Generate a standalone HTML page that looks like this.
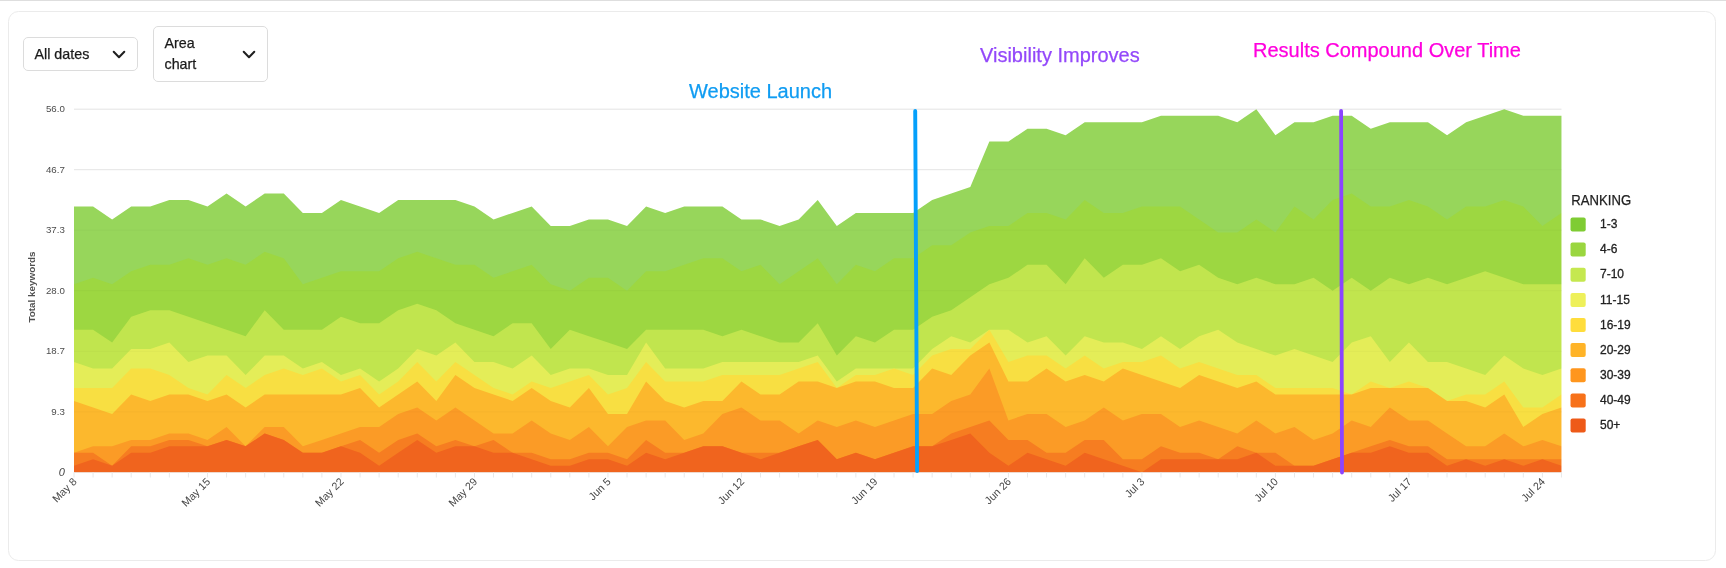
<!DOCTYPE html>
<html><head><meta charset="utf-8"><title>Ranking chart</title>
<style>
html,body{margin:0;padding:0;background:#fff}
body{width:1726px;height:568px;position:relative;overflow:hidden;font-family:"Liberation Sans",sans-serif}
.topline{position:absolute;left:0;top:0;width:1726px;height:1px;background:#dedede}
.card{position:absolute;left:7.75px;top:10.75px;width:1708.5px;height:550.5px;border:1.5px solid #ebebeb;border-radius:10.5px;box-sizing:border-box}
.dd{position:absolute;will-change:transform;border:1px solid #dcdcdc;border-radius:5px;box-sizing:border-box;color:#1a1a1a;font-size:14.3px;line-height:21px;-webkit-text-stroke:0.25px #1a1a1a}
.dd span{position:absolute;left:10.5px}
.dd svg{position:absolute}
</style></head><body>
<div class="topline"></div>
<div class="card"></div>
<div class="dd" style="left:23px;top:37px;width:115px;height:34px"><span style="top:5.5px">All dates</span>
<svg style="left:88.3px;top:12.3px" width="14" height="10" viewBox="0 0 14 10"><path d="M1.7 1.8 L7 7.3 L12.3 1.8" fill="none" stroke="#1f1f1f" stroke-width="2" stroke-linecap="round" stroke-linejoin="round"/></svg></div>
<div class="dd" style="left:153px;top:26px;width:115px;height:56px"><span style="top:6px">Area<br>chart</span>
<svg style="left:87.8px;top:23.3px" width="14" height="10" viewBox="0 0 14 10"><path d="M1.7 1.8 L7 7.3 L12.3 1.8" fill="none" stroke="#1f1f1f" stroke-width="2" stroke-linecap="round" stroke-linejoin="round"/></svg></div>
<svg width="1726" height="568" viewBox="0 0 1726 568" style="position:absolute;left:0;top:0;will-change:transform">
<style>
.yl{font:9.7px "Liberation Sans",sans-serif;fill:#4c4c4c}
.xl{font:10.7px "Liberation Sans",sans-serif;fill:#484848}
.lg{font:12px "Liberation Sans",sans-serif;fill:#222;stroke:#222;stroke-width:0.3px}
.lt{font:14px "Liberation Sans",sans-serif;fill:#222;stroke:#222;stroke-width:0.25px}
.an{font:20px "Liberation Sans",sans-serif;stroke-width:0.25px}
</style>
<line x1="74.0" x2="1561.5" y1="109.2" y2="109.2" stroke="#e9e9e9" stroke-width="1"/>
<text x="64.8" y="112.1" text-anchor="end" class="yl">56.0</text>
<line x1="74.0" x2="1561.5" y1="169.7" y2="169.7" stroke="#e9e9e9" stroke-width="1"/>
<text x="64.8" y="172.6" text-anchor="end" class="yl">46.7</text>
<line x1="74.0" x2="1561.5" y1="230.2" y2="230.2" stroke="#e9e9e9" stroke-width="1"/>
<text x="64.8" y="233.1" text-anchor="end" class="yl">37.3</text>
<line x1="74.0" x2="1561.5" y1="290.7" y2="290.7" stroke="#e9e9e9" stroke-width="1"/>
<text x="64.8" y="293.6" text-anchor="end" class="yl">28.0</text>
<line x1="74.0" x2="1561.5" y1="351.3" y2="351.3" stroke="#e9e9e9" stroke-width="1"/>
<text x="64.8" y="354.2" text-anchor="end" class="yl">18.7</text>
<line x1="74.0" x2="1561.5" y1="411.8" y2="411.8" stroke="#e9e9e9" stroke-width="1"/>
<text x="64.8" y="414.7" text-anchor="end" class="yl">9.3</text>
<line x1="74.0" x2="1561.5" y1="472.3" y2="472.3" stroke="#e9e9e9" stroke-width="1"/>
<text x="64.8" y="476.4" text-anchor="end" class="yl" style="font-style:italic;font-size:11px;fill:#444">0</text>
<mask id="cp" maskUnits="userSpaceOnUse" x="0" y="0" width="1726" height="568"><rect x="74.0" y="100" width="1487.46" height="372.15" fill="#fff"/></mask>
<g mask="url(#cp)">
<path d="M71.00,206.46 L74.00,206.46 L93.07,206.46 L112.14,219.42 L131.21,206.46 L150.28,206.46 L169.35,199.97 L188.42,199.97 L207.49,206.46 L226.56,193.49 L245.63,206.46 L264.70,193.49 L283.77,193.49 L302.84,212.94 L321.91,212.94 L340.98,199.97 L360.05,206.46 L379.12,212.94 L398.19,199.97 L417.26,199.97 L436.33,199.97 L455.40,199.97 L474.47,206.46 L493.54,219.42 L512.61,212.94 L531.68,206.46 L550.75,225.91 L569.82,225.91 L588.89,219.42 L607.96,219.42 L627.03,225.91 L646.10,206.46 L665.17,212.94 L684.24,206.46 L703.31,206.46 L722.38,206.46 L741.45,219.42 L760.52,219.42 L779.59,225.91 L798.66,219.42 L817.73,199.97 L836.80,225.91 L855.87,212.94 L874.94,212.94 L894.01,212.94 L913.08,212.94 L932.15,199.97 L951.22,193.49 L970.29,187.00 L989.36,141.62 L1008.43,141.62 L1027.50,128.65 L1046.57,128.65 L1065.64,135.13 L1084.71,122.16 L1103.78,122.16 L1122.85,122.16 L1141.92,122.16 L1160.99,115.68 L1180.06,115.68 L1199.13,115.68 L1218.20,115.68 L1237.27,122.16 L1256.34,109.20 L1275.41,135.13 L1294.48,122.16 L1313.55,122.16 L1332.62,115.68 L1351.69,115.68 L1370.76,128.65 L1389.83,122.16 L1408.90,122.16 L1427.97,122.16 L1447.04,135.13 L1466.11,122.16 L1485.18,115.68 L1504.25,109.20 L1523.32,115.68 L1542.39,115.68 L1561.46,115.68 L1564.46,115.68 L1564.46,476.30 L71.00,476.30 Z" fill="#97D65B"/>
<path d="M71.00,284.26 L74.00,284.26 L93.07,277.78 L112.14,284.26 L131.21,271.30 L150.28,264.81 L169.35,264.81 L188.42,258.33 L207.49,264.81 L226.56,258.33 L245.63,264.81 L264.70,251.84 L283.77,258.33 L302.84,284.26 L321.91,277.78 L340.98,271.30 L360.05,271.30 L379.12,271.30 L398.19,258.33 L417.26,251.84 L436.33,258.33 L455.40,264.81 L474.47,264.81 L493.54,277.78 L512.61,271.30 L531.68,264.81 L550.75,284.26 L569.82,290.75 L588.89,277.78 L607.96,277.78 L627.03,290.75 L646.10,271.30 L665.17,271.30 L684.24,264.81 L703.31,258.33 L722.38,258.33 L741.45,271.30 L760.52,264.81 L779.59,284.26 L798.66,271.30 L817.73,258.33 L836.80,284.26 L855.87,264.81 L874.94,271.30 L894.01,258.33 L913.08,258.33 L932.15,245.36 L951.22,245.36 L970.29,232.39 L989.36,225.91 L1008.43,225.91 L1027.50,212.94 L1046.57,212.94 L1065.64,219.42 L1084.71,199.97 L1103.78,212.94 L1122.85,212.94 L1141.92,206.46 L1160.99,206.46 L1180.06,206.46 L1199.13,219.42 L1218.20,232.39 L1237.27,232.39 L1256.34,219.42 L1275.41,232.39 L1294.48,206.46 L1313.55,219.42 L1332.62,199.97 L1351.69,193.49 L1370.76,206.46 L1389.83,206.46 L1408.90,199.97 L1427.97,206.46 L1447.04,219.42 L1466.11,206.46 L1485.18,206.46 L1504.25,199.97 L1523.32,206.46 L1542.39,225.91 L1561.46,212.94 L1564.46,212.94 L1564.46,476.30 L71.00,476.30 Z" fill="#9DD741"/>
<path d="M71.00,329.65 L74.00,329.65 L93.07,329.65 L112.14,342.62 L131.21,316.68 L150.28,310.20 L169.35,310.20 L188.42,316.68 L207.49,323.17 L226.56,329.65 L245.63,336.14 L264.70,310.20 L283.77,329.65 L302.84,329.65 L321.91,329.65 L340.98,316.68 L360.05,323.17 L379.12,323.17 L398.19,310.20 L417.26,303.72 L436.33,310.20 L455.40,323.17 L474.47,329.65 L493.54,336.14 L512.61,323.17 L531.68,323.17 L550.75,349.10 L569.82,329.65 L588.89,336.14 L607.96,342.62 L627.03,349.10 L646.10,329.65 L665.17,329.65 L684.24,329.65 L703.31,329.65 L722.38,336.14 L741.45,329.65 L760.52,336.14 L779.59,342.62 L798.66,342.62 L817.73,323.17 L836.80,355.59 L855.87,336.14 L874.94,342.62 L894.01,329.65 L913.08,329.65 L932.15,316.68 L951.22,310.20 L970.29,297.23 L989.36,284.26 L1008.43,277.78 L1027.50,264.81 L1046.57,264.81 L1065.64,284.26 L1084.71,258.33 L1103.78,277.78 L1122.85,264.81 L1141.92,264.81 L1160.99,258.33 L1180.06,271.30 L1199.13,264.81 L1218.20,277.78 L1237.27,284.26 L1256.34,277.78 L1275.41,284.26 L1294.48,284.26 L1313.55,277.78 L1332.62,290.75 L1351.69,277.78 L1370.76,290.75 L1389.83,277.78 L1408.90,284.26 L1427.97,277.78 L1447.04,284.26 L1466.11,277.78 L1485.18,271.30 L1504.25,277.78 L1523.32,284.26 L1542.39,284.26 L1561.46,284.26 L1564.46,284.26 L1564.46,476.30 L71.00,476.30 Z" fill="#C1E54E"/>
<path d="M71.00,362.07 L74.00,362.07 L93.07,368.56 L112.14,368.56 L131.21,349.10 L150.28,349.10 L169.35,342.62 L188.42,362.07 L207.49,355.59 L226.56,355.59 L245.63,375.04 L264.70,355.59 L283.77,355.59 L302.84,368.56 L321.91,362.07 L340.98,375.04 L360.05,368.56 L379.12,381.52 L398.19,368.56 L417.26,349.10 L436.33,355.59 L455.40,342.62 L474.47,362.07 L493.54,362.07 L512.61,368.56 L531.68,355.59 L550.75,375.04 L569.82,368.56 L588.89,368.56 L607.96,375.04 L627.03,375.04 L646.10,342.62 L665.17,368.56 L684.24,368.56 L703.31,368.56 L722.38,362.07 L741.45,362.07 L760.52,362.07 L779.59,362.07 L798.66,362.07 L817.73,355.59 L836.80,381.52 L855.87,368.56 L874.94,368.56 L894.01,368.56 L913.08,368.56 L932.15,349.10 L951.22,336.14 L970.29,342.62 L989.36,329.65 L1008.43,329.65 L1027.50,342.62 L1046.57,336.14 L1065.64,355.59 L1084.71,336.14 L1103.78,342.62 L1122.85,342.62 L1141.92,349.10 L1160.99,336.14 L1180.06,349.10 L1199.13,336.14 L1218.20,329.65 L1237.27,342.62 L1256.34,349.10 L1275.41,355.59 L1294.48,349.10 L1313.55,355.59 L1332.62,362.07 L1351.69,342.62 L1370.76,336.14 L1389.83,362.07 L1408.90,342.62 L1427.97,362.07 L1447.04,362.07 L1466.11,368.56 L1485.18,375.04 L1504.25,355.59 L1523.32,368.56 L1542.39,375.04 L1561.46,368.56 L1564.46,368.56 L1564.46,476.30 L71.00,476.30 Z" fill="#E4ED58"/>
<path d="M71.00,388.01 L74.00,388.01 L93.07,388.01 L112.14,388.01 L131.21,368.56 L150.28,368.56 L169.35,375.04 L188.42,388.01 L207.49,394.49 L226.56,375.04 L245.63,388.01 L264.70,375.04 L283.77,368.56 L302.84,375.04 L321.91,368.56 L340.98,381.52 L360.05,375.04 L379.12,394.49 L398.19,381.52 L417.26,362.07 L436.33,381.52 L455.40,362.07 L474.47,375.04 L493.54,388.01 L512.61,394.49 L531.68,381.52 L550.75,388.01 L569.82,381.52 L588.89,375.04 L607.96,394.49 L627.03,388.01 L646.10,362.07 L665.17,381.52 L684.24,381.52 L703.31,381.52 L722.38,375.04 L741.45,375.04 L760.52,375.04 L779.59,375.04 L798.66,368.56 L817.73,362.07 L836.80,388.01 L855.87,375.04 L874.94,375.04 L894.01,368.56 L913.08,375.04 L932.15,355.59 L951.22,349.10 L970.29,349.10 L989.36,329.65 L1008.43,362.07 L1027.50,355.59 L1046.57,355.59 L1065.64,368.56 L1084.71,355.59 L1103.78,368.56 L1122.85,362.07 L1141.92,362.07 L1160.99,355.59 L1180.06,368.56 L1199.13,362.07 L1218.20,368.56 L1237.27,375.04 L1256.34,375.04 L1275.41,388.01 L1294.48,388.01 L1313.55,388.01 L1332.62,388.01 L1351.69,394.49 L1370.76,381.52 L1389.83,388.01 L1408.90,381.52 L1427.97,388.01 L1447.04,400.98 L1466.11,394.49 L1485.18,394.49 L1504.25,381.52 L1523.32,407.46 L1542.39,407.46 L1561.46,394.49 L1564.46,394.49 L1564.46,476.30 L71.00,476.30 Z" fill="#F8DF42"/>
<path d="M71.00,400.98 L74.00,400.98 L93.07,407.46 L112.14,413.94 L131.21,394.49 L150.28,400.98 L169.35,394.49 L188.42,394.49 L207.49,400.98 L226.56,394.49 L245.63,407.46 L264.70,394.49 L283.77,394.49 L302.84,394.49 L321.91,394.49 L340.98,394.49 L360.05,388.01 L379.12,407.46 L398.19,394.49 L417.26,381.52 L436.33,400.98 L455.40,375.04 L474.47,388.01 L493.54,394.49 L512.61,400.98 L531.68,388.01 L550.75,400.98 L569.82,407.46 L588.89,388.01 L607.96,413.94 L627.03,413.94 L646.10,381.52 L665.17,400.98 L684.24,407.46 L703.31,400.98 L722.38,400.98 L741.45,381.52 L760.52,394.49 L779.59,394.49 L798.66,381.52 L817.73,381.52 L836.80,388.01 L855.87,381.52 L874.94,381.52 L894.01,388.01 L913.08,388.01 L932.15,368.56 L951.22,375.04 L970.29,355.59 L989.36,342.62 L1008.43,381.52 L1027.50,381.52 L1046.57,368.56 L1065.64,381.52 L1084.71,375.04 L1103.78,381.52 L1122.85,368.56 L1141.92,375.04 L1160.99,381.52 L1180.06,388.01 L1199.13,375.04 L1218.20,381.52 L1237.27,388.01 L1256.34,381.52 L1275.41,394.49 L1294.48,394.49 L1313.55,394.49 L1332.62,394.49 L1351.69,394.49 L1370.76,388.01 L1389.83,388.01 L1408.90,388.01 L1427.97,388.01 L1447.04,400.98 L1466.11,400.98 L1485.18,407.46 L1504.25,394.49 L1523.32,426.91 L1542.39,413.94 L1561.46,407.46 L1564.46,407.46 L1564.46,476.30 L71.00,476.30 Z" fill="#FCB82D"/>
<path d="M71.00,452.85 L74.00,452.85 L93.07,446.36 L112.14,446.36 L131.21,439.88 L150.28,439.88 L169.35,433.40 L188.42,433.40 L207.49,439.88 L226.56,426.91 L245.63,446.36 L264.70,426.91 L283.77,426.91 L302.84,446.36 L321.91,439.88 L340.98,433.40 L360.05,426.91 L379.12,426.91 L398.19,413.94 L417.26,407.46 L436.33,420.43 L455.40,407.46 L474.47,420.43 L493.54,433.40 L512.61,433.40 L531.68,420.43 L550.75,433.40 L569.82,439.88 L588.89,426.91 L607.96,446.36 L627.03,426.91 L646.10,420.43 L665.17,420.43 L684.24,439.88 L703.31,433.40 L722.38,413.94 L741.45,407.46 L760.52,420.43 L779.59,420.43 L798.66,433.40 L817.73,420.43 L836.80,426.91 L855.87,420.43 L874.94,426.91 L894.01,420.43 L913.08,413.94 L932.15,413.94 L951.22,400.98 L970.29,394.49 L989.36,368.56 L1008.43,420.43 L1027.50,413.94 L1046.57,413.94 L1065.64,426.91 L1084.71,420.43 L1103.78,407.46 L1122.85,420.43 L1141.92,413.94 L1160.99,413.94 L1180.06,426.91 L1199.13,420.43 L1218.20,426.91 L1237.27,433.40 L1256.34,420.43 L1275.41,433.40 L1294.48,426.91 L1313.55,439.88 L1332.62,433.40 L1351.69,420.43 L1370.76,426.91 L1389.83,407.46 L1408.90,420.43 L1427.97,420.43 L1447.04,433.40 L1466.11,446.36 L1485.18,446.36 L1504.25,433.40 L1523.32,446.36 L1542.39,439.88 L1561.46,446.36 L1564.46,446.36 L1564.46,476.30 L71.00,476.30 Z" fill="#FB9B26"/>
<path d="M71.00,452.85 L74.00,452.85 L93.07,452.85 L112.14,465.82 L131.21,446.36 L150.28,446.36 L169.35,439.88 L188.42,439.88 L207.49,446.36 L226.56,439.88 L245.63,446.36 L264.70,433.40 L283.77,439.88 L302.84,452.85 L321.91,452.85 L340.98,446.36 L360.05,439.88 L379.12,452.85 L398.19,439.88 L417.26,433.40 L436.33,446.36 L455.40,439.88 L474.47,446.36 L493.54,439.88 L512.61,452.85 L531.68,452.85 L550.75,459.33 L569.82,459.33 L588.89,452.85 L607.96,452.85 L627.03,459.33 L646.10,439.88 L665.17,452.85 L684.24,452.85 L703.31,446.36 L722.38,446.36 L741.45,452.85 L760.52,452.85 L779.59,452.85 L798.66,446.36 L817.73,439.88 L836.80,459.33 L855.87,452.85 L874.94,459.33 L894.01,452.85 L913.08,446.36 L932.15,446.36 L951.22,433.40 L970.29,426.91 L989.36,420.43 L1008.43,439.88 L1027.50,439.88 L1046.57,452.85 L1065.64,452.85 L1084.71,439.88 L1103.78,439.88 L1122.85,459.33 L1141.92,459.33 L1160.99,446.36 L1180.06,452.85 L1199.13,452.85 L1218.20,459.33 L1237.27,446.36 L1256.34,452.85 L1275.41,452.85 L1294.48,465.82 L1313.55,465.82 L1332.62,459.33 L1351.69,452.85 L1370.76,446.36 L1389.83,439.88 L1408.90,446.36 L1427.97,446.36 L1447.04,459.33 L1466.11,459.33 L1485.18,459.33 L1504.25,459.33 L1523.32,459.33 L1542.39,459.33 L1561.46,459.33 L1564.46,459.33 L1564.46,476.30 L71.00,476.30 Z" fill="#F67D21"/>
<path d="M71.00,465.82 L74.00,465.82 L93.07,459.33 L112.14,465.82 L131.21,452.85 L150.28,452.85 L169.35,446.36 L188.42,446.36 L207.49,446.36 L226.56,439.88 L245.63,446.36 L264.70,433.40 L283.77,439.88 L302.84,452.85 L321.91,452.85 L340.98,446.36 L360.05,452.85 L379.12,465.82 L398.19,452.85 L417.26,439.88 L436.33,452.85 L455.40,446.36 L474.47,446.36 L493.54,452.85 L512.61,452.85 L531.68,459.33 L550.75,465.82 L569.82,465.82 L588.89,459.33 L607.96,459.33 L627.03,465.82 L646.10,452.85 L665.17,459.33 L684.24,452.85 L703.31,446.36 L722.38,446.36 L741.45,452.85 L760.52,459.33 L779.59,452.85 L798.66,446.36 L817.73,439.88 L836.80,459.33 L855.87,452.85 L874.94,459.33 L894.01,452.85 L913.08,446.36 L932.15,446.36 L951.22,439.88 L970.29,433.40 L989.36,452.85 L1008.43,465.82 L1027.50,452.85 L1046.57,459.33 L1065.64,465.82 L1084.71,452.85 L1103.78,459.33 L1122.85,465.82 L1141.92,472.30 L1160.99,459.33 L1180.06,459.33 L1199.13,459.33 L1218.20,459.33 L1237.27,459.33 L1256.34,452.85 L1275.41,465.82 L1294.48,465.82 L1313.55,465.82 L1332.62,459.33 L1351.69,452.85 L1370.76,452.85 L1389.83,446.36 L1408.90,452.85 L1427.97,452.85 L1447.04,465.82 L1466.11,459.33 L1485.18,465.82 L1504.25,459.33 L1523.32,465.82 L1542.39,459.33 L1561.46,465.82 L1564.46,465.82 L1564.46,476.30 L71.00,476.30 Z" fill="#F0641E"/>
</g>
<line x1="74.0" x2="1561.5" y1="109.2" y2="109.2" stroke="#000" stroke-opacity="0.028" stroke-width="1"/>
<line x1="74.0" x2="1561.5" y1="169.7" y2="169.7" stroke="#000" stroke-opacity="0.028" stroke-width="1"/>
<line x1="74.0" x2="1561.5" y1="230.2" y2="230.2" stroke="#000" stroke-opacity="0.028" stroke-width="1"/>
<line x1="74.0" x2="1561.5" y1="290.7" y2="290.7" stroke="#000" stroke-opacity="0.028" stroke-width="1"/>
<line x1="74.0" x2="1561.5" y1="351.3" y2="351.3" stroke="#000" stroke-opacity="0.028" stroke-width="1"/>
<line x1="74.0" x2="1561.5" y1="411.8" y2="411.8" stroke="#000" stroke-opacity="0.028" stroke-width="1"/>
<line x1="74.00" x2="74.00" y1="472.3" y2="477.5" stroke="#e8e8e8" stroke-width="1"/>
<line x1="93.07" x2="93.07" y1="472.3" y2="477.5" stroke="#e8e8e8" stroke-width="1"/>
<line x1="112.14" x2="112.14" y1="472.3" y2="477.5" stroke="#e8e8e8" stroke-width="1"/>
<line x1="131.21" x2="131.21" y1="472.3" y2="477.5" stroke="#e8e8e8" stroke-width="1"/>
<line x1="150.28" x2="150.28" y1="472.3" y2="477.5" stroke="#e8e8e8" stroke-width="1"/>
<line x1="169.35" x2="169.35" y1="472.3" y2="477.5" stroke="#e8e8e8" stroke-width="1"/>
<line x1="188.42" x2="188.42" y1="472.3" y2="477.5" stroke="#e8e8e8" stroke-width="1"/>
<line x1="207.49" x2="207.49" y1="472.3" y2="477.5" stroke="#e8e8e8" stroke-width="1"/>
<line x1="226.56" x2="226.56" y1="472.3" y2="477.5" stroke="#e8e8e8" stroke-width="1"/>
<line x1="245.63" x2="245.63" y1="472.3" y2="477.5" stroke="#e8e8e8" stroke-width="1"/>
<line x1="264.70" x2="264.70" y1="472.3" y2="477.5" stroke="#e8e8e8" stroke-width="1"/>
<line x1="283.77" x2="283.77" y1="472.3" y2="477.5" stroke="#e8e8e8" stroke-width="1"/>
<line x1="302.84" x2="302.84" y1="472.3" y2="477.5" stroke="#e8e8e8" stroke-width="1"/>
<line x1="321.91" x2="321.91" y1="472.3" y2="477.5" stroke="#e8e8e8" stroke-width="1"/>
<line x1="340.98" x2="340.98" y1="472.3" y2="477.5" stroke="#e8e8e8" stroke-width="1"/>
<line x1="360.05" x2="360.05" y1="472.3" y2="477.5" stroke="#e8e8e8" stroke-width="1"/>
<line x1="379.12" x2="379.12" y1="472.3" y2="477.5" stroke="#e8e8e8" stroke-width="1"/>
<line x1="398.19" x2="398.19" y1="472.3" y2="477.5" stroke="#e8e8e8" stroke-width="1"/>
<line x1="417.26" x2="417.26" y1="472.3" y2="477.5" stroke="#e8e8e8" stroke-width="1"/>
<line x1="436.33" x2="436.33" y1="472.3" y2="477.5" stroke="#e8e8e8" stroke-width="1"/>
<line x1="455.40" x2="455.40" y1="472.3" y2="477.5" stroke="#e8e8e8" stroke-width="1"/>
<line x1="474.47" x2="474.47" y1="472.3" y2="477.5" stroke="#e8e8e8" stroke-width="1"/>
<line x1="493.54" x2="493.54" y1="472.3" y2="477.5" stroke="#e8e8e8" stroke-width="1"/>
<line x1="512.61" x2="512.61" y1="472.3" y2="477.5" stroke="#e8e8e8" stroke-width="1"/>
<line x1="531.68" x2="531.68" y1="472.3" y2="477.5" stroke="#e8e8e8" stroke-width="1"/>
<line x1="550.75" x2="550.75" y1="472.3" y2="477.5" stroke="#e8e8e8" stroke-width="1"/>
<line x1="569.82" x2="569.82" y1="472.3" y2="477.5" stroke="#e8e8e8" stroke-width="1"/>
<line x1="588.89" x2="588.89" y1="472.3" y2="477.5" stroke="#e8e8e8" stroke-width="1"/>
<line x1="607.96" x2="607.96" y1="472.3" y2="477.5" stroke="#e8e8e8" stroke-width="1"/>
<line x1="627.03" x2="627.03" y1="472.3" y2="477.5" stroke="#e8e8e8" stroke-width="1"/>
<line x1="646.10" x2="646.10" y1="472.3" y2="477.5" stroke="#e8e8e8" stroke-width="1"/>
<line x1="665.17" x2="665.17" y1="472.3" y2="477.5" stroke="#e8e8e8" stroke-width="1"/>
<line x1="684.24" x2="684.24" y1="472.3" y2="477.5" stroke="#e8e8e8" stroke-width="1"/>
<line x1="703.31" x2="703.31" y1="472.3" y2="477.5" stroke="#e8e8e8" stroke-width="1"/>
<line x1="722.38" x2="722.38" y1="472.3" y2="477.5" stroke="#e8e8e8" stroke-width="1"/>
<line x1="741.45" x2="741.45" y1="472.3" y2="477.5" stroke="#e8e8e8" stroke-width="1"/>
<line x1="760.52" x2="760.52" y1="472.3" y2="477.5" stroke="#e8e8e8" stroke-width="1"/>
<line x1="779.59" x2="779.59" y1="472.3" y2="477.5" stroke="#e8e8e8" stroke-width="1"/>
<line x1="798.66" x2="798.66" y1="472.3" y2="477.5" stroke="#e8e8e8" stroke-width="1"/>
<line x1="817.73" x2="817.73" y1="472.3" y2="477.5" stroke="#e8e8e8" stroke-width="1"/>
<line x1="836.80" x2="836.80" y1="472.3" y2="477.5" stroke="#e8e8e8" stroke-width="1"/>
<line x1="855.87" x2="855.87" y1="472.3" y2="477.5" stroke="#e8e8e8" stroke-width="1"/>
<line x1="874.94" x2="874.94" y1="472.3" y2="477.5" stroke="#e8e8e8" stroke-width="1"/>
<line x1="894.01" x2="894.01" y1="472.3" y2="477.5" stroke="#e8e8e8" stroke-width="1"/>
<line x1="913.08" x2="913.08" y1="472.3" y2="477.5" stroke="#e8e8e8" stroke-width="1"/>
<line x1="932.15" x2="932.15" y1="472.3" y2="477.5" stroke="#e8e8e8" stroke-width="1"/>
<line x1="951.22" x2="951.22" y1="472.3" y2="477.5" stroke="#e8e8e8" stroke-width="1"/>
<line x1="970.29" x2="970.29" y1="472.3" y2="477.5" stroke="#e8e8e8" stroke-width="1"/>
<line x1="989.36" x2="989.36" y1="472.3" y2="477.5" stroke="#e8e8e8" stroke-width="1"/>
<line x1="1008.43" x2="1008.43" y1="472.3" y2="477.5" stroke="#e8e8e8" stroke-width="1"/>
<line x1="1027.50" x2="1027.50" y1="472.3" y2="477.5" stroke="#e8e8e8" stroke-width="1"/>
<line x1="1046.57" x2="1046.57" y1="472.3" y2="477.5" stroke="#e8e8e8" stroke-width="1"/>
<line x1="1065.64" x2="1065.64" y1="472.3" y2="477.5" stroke="#e8e8e8" stroke-width="1"/>
<line x1="1084.71" x2="1084.71" y1="472.3" y2="477.5" stroke="#e8e8e8" stroke-width="1"/>
<line x1="1103.78" x2="1103.78" y1="472.3" y2="477.5" stroke="#e8e8e8" stroke-width="1"/>
<line x1="1122.85" x2="1122.85" y1="472.3" y2="477.5" stroke="#e8e8e8" stroke-width="1"/>
<line x1="1141.92" x2="1141.92" y1="472.3" y2="477.5" stroke="#e8e8e8" stroke-width="1"/>
<line x1="1160.99" x2="1160.99" y1="472.3" y2="477.5" stroke="#e8e8e8" stroke-width="1"/>
<line x1="1180.06" x2="1180.06" y1="472.3" y2="477.5" stroke="#e8e8e8" stroke-width="1"/>
<line x1="1199.13" x2="1199.13" y1="472.3" y2="477.5" stroke="#e8e8e8" stroke-width="1"/>
<line x1="1218.20" x2="1218.20" y1="472.3" y2="477.5" stroke="#e8e8e8" stroke-width="1"/>
<line x1="1237.27" x2="1237.27" y1="472.3" y2="477.5" stroke="#e8e8e8" stroke-width="1"/>
<line x1="1256.34" x2="1256.34" y1="472.3" y2="477.5" stroke="#e8e8e8" stroke-width="1"/>
<line x1="1275.41" x2="1275.41" y1="472.3" y2="477.5" stroke="#e8e8e8" stroke-width="1"/>
<line x1="1294.48" x2="1294.48" y1="472.3" y2="477.5" stroke="#e8e8e8" stroke-width="1"/>
<line x1="1313.55" x2="1313.55" y1="472.3" y2="477.5" stroke="#e8e8e8" stroke-width="1"/>
<line x1="1332.62" x2="1332.62" y1="472.3" y2="477.5" stroke="#e8e8e8" stroke-width="1"/>
<line x1="1351.69" x2="1351.69" y1="472.3" y2="477.5" stroke="#e8e8e8" stroke-width="1"/>
<line x1="1370.76" x2="1370.76" y1="472.3" y2="477.5" stroke="#e8e8e8" stroke-width="1"/>
<line x1="1389.83" x2="1389.83" y1="472.3" y2="477.5" stroke="#e8e8e8" stroke-width="1"/>
<line x1="1408.90" x2="1408.90" y1="472.3" y2="477.5" stroke="#e8e8e8" stroke-width="1"/>
<line x1="1427.97" x2="1427.97" y1="472.3" y2="477.5" stroke="#e8e8e8" stroke-width="1"/>
<line x1="1447.04" x2="1447.04" y1="472.3" y2="477.5" stroke="#e8e8e8" stroke-width="1"/>
<line x1="1466.11" x2="1466.11" y1="472.3" y2="477.5" stroke="#e8e8e8" stroke-width="1"/>
<line x1="1485.18" x2="1485.18" y1="472.3" y2="477.5" stroke="#e8e8e8" stroke-width="1"/>
<line x1="1504.25" x2="1504.25" y1="472.3" y2="477.5" stroke="#e8e8e8" stroke-width="1"/>
<line x1="1523.32" x2="1523.32" y1="472.3" y2="477.5" stroke="#e8e8e8" stroke-width="1"/>
<line x1="1542.39" x2="1542.39" y1="472.3" y2="477.5" stroke="#e8e8e8" stroke-width="1"/>
<line x1="1561.46" x2="1561.46" y1="472.3" y2="477.5" stroke="#e8e8e8" stroke-width="1"/>
<text transform="translate(77.4,482.4) rotate(-45)" text-anchor="end" class="xl">May 8</text>
<text transform="translate(210.9,482.4) rotate(-45)" text-anchor="end" class="xl">May 15</text>
<text transform="translate(344.4,482.4) rotate(-45)" text-anchor="end" class="xl">May 22</text>
<text transform="translate(477.9,482.4) rotate(-45)" text-anchor="end" class="xl">May 29</text>
<text transform="translate(611.4,482.4) rotate(-45)" text-anchor="end" class="xl">Jun 5</text>
<text transform="translate(744.9,482.4) rotate(-45)" text-anchor="end" class="xl">Jun 12</text>
<text transform="translate(878.3,482.4) rotate(-45)" text-anchor="end" class="xl">Jun 19</text>
<text transform="translate(1011.8,482.4) rotate(-45)" text-anchor="end" class="xl">Jun 26</text>
<text transform="translate(1145.3,482.4) rotate(-45)" text-anchor="end" class="xl">Jul 3</text>
<text transform="translate(1278.8,482.4) rotate(-45)" text-anchor="end" class="xl">Jul 10</text>
<text transform="translate(1412.3,482.4) rotate(-45)" text-anchor="end" class="xl">Jul 17</text>
<text transform="translate(1545.8,482.4) rotate(-45)" text-anchor="end" class="xl">Jul 24</text>
<text transform="translate(35,287) rotate(-90)" text-anchor="middle" style="font:bold 9.9px 'Liberation Sans',sans-serif;fill:#505050">Total keywords</text>
<text x="1571.3" y="205.2" class="lt" textLength="59.8" lengthAdjust="spacingAndGlyphs">RANKING</text>
<rect x="1570.5" y="217.4" width="15.2" height="14" rx="2" fill="#7FCC33"/>
<text x="1600" y="228.1" class="lg">1-3</text>
<rect x="1570.5" y="242.6" width="15.2" height="14" rx="2" fill="#9AD63F"/>
<text x="1600" y="253.2" class="lg">4-6</text>
<rect x="1570.5" y="267.7" width="15.2" height="14" rx="2" fill="#C5E84F"/>
<text x="1600" y="278.4" class="lg">7-10</text>
<rect x="1570.5" y="292.9" width="15.2" height="14" rx="2" fill="#EEF05A"/>
<text x="1600" y="303.6" class="lg">11-15</text>
<rect x="1570.5" y="318.0" width="15.2" height="14" rx="2" fill="#FFDD3C"/>
<text x="1600" y="328.7" class="lg">16-19</text>
<rect x="1570.5" y="343.1" width="15.2" height="14" rx="2" fill="#FFB428"/>
<text x="1600" y="353.8" class="lg">20-29</text>
<rect x="1570.5" y="368.3" width="15.2" height="14" rx="2" fill="#FF961E"/>
<text x="1600" y="379.0" class="lg">30-39</text>
<rect x="1570.5" y="393.4" width="15.2" height="14" rx="2" fill="#F7711A"/>
<text x="1600" y="404.1" class="lg">40-49</text>
<rect x="1570.5" y="418.6" width="15.2" height="14" rx="2" fill="#EE5A18"/>
<text x="1600" y="429.3" class="lg">50+</text>
<line x1="915.2" y1="111" x2="917.1" y2="471" stroke="#05A0FB" stroke-width="3.9" stroke-linecap="round"/>
<line x1="1341.1" y1="111" x2="1342" y2="472.6" stroke="#8B45FF" stroke-width="3.8" stroke-linecap="round"/>
<text x="689" y="98" class="an" fill="#109CF2" stroke="#109CF2">Website Launch</text>
<text x="980" y="62" class="an" fill="#9348FA" stroke="#9348FA">Visibility Improves</text>
<text x="1253" y="57" class="an" fill="#FF00DE" stroke="#FF00DE">Results Compound Over Time</text>
</svg>
</body></html>
